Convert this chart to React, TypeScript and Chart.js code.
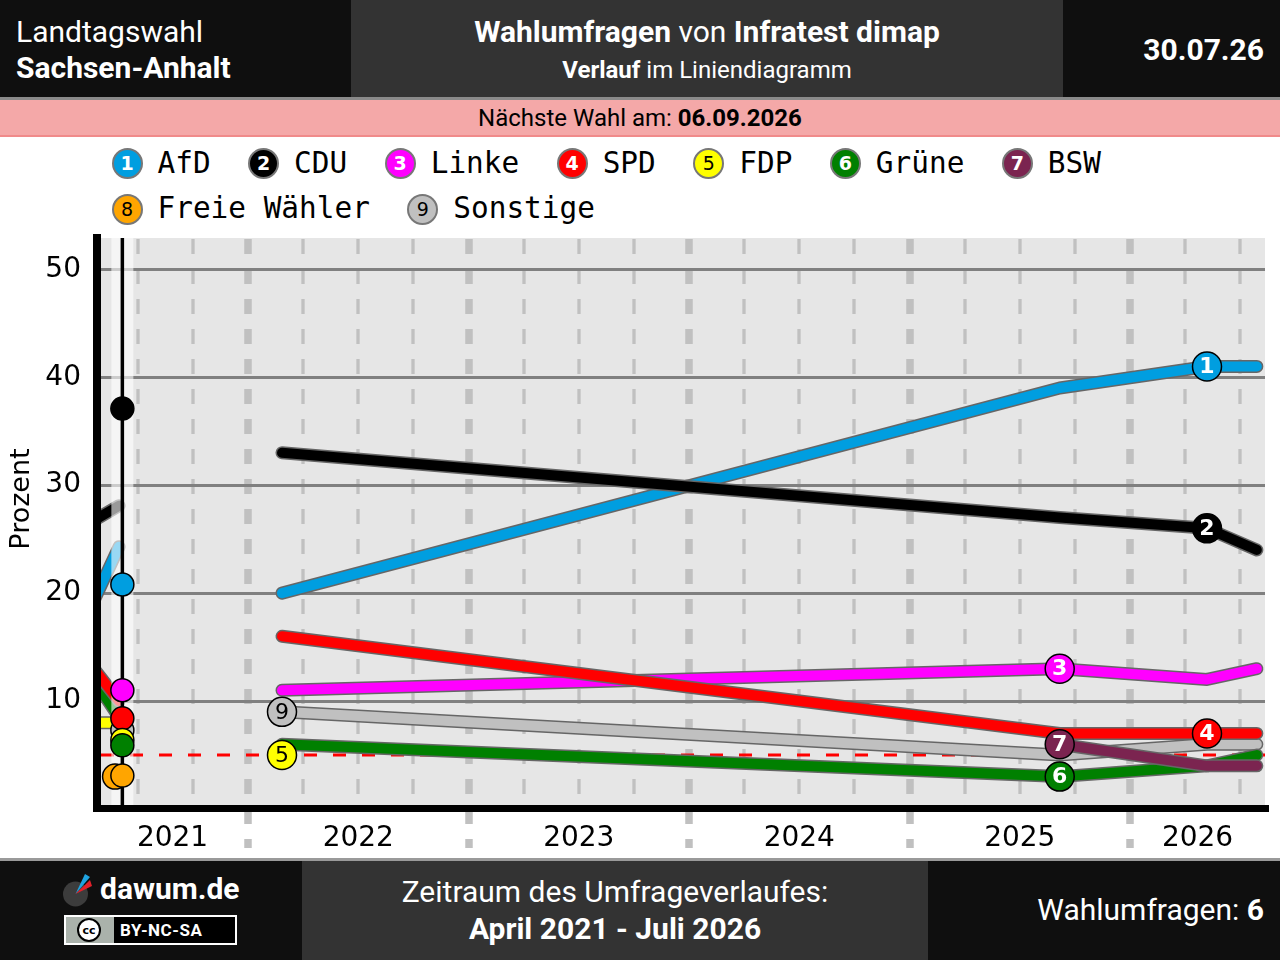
import React, { useEffect, useRef } from "react";
import { Chart, registerables } from "chart.js";

Chart.register(...registerables);

// ---------------- data ----------------
const parties = ["AfD", "CDU", "Linke", "SPD", "FDP", "Grüne", "BSW", "Freie Wähler", "Sonstige"];
const partyColors = ["#009ee0", "#000000", "#ff00ff", "#ff0000", "#ffff00", "#008000", "#7b2450", "#ffa500", "#c0c0c0"];
const numberColors = ["#ffffff", "#ffffff", "#ffffff", "#ffffff", "#000000", "#ffffff", "#ffffff", "#000000", "#000000"];

// poll dates as decimal years (Feb 2022, Sep 2025, May 2026, 30.07.2026)
const pollDates = [2022.154, 2025.681, 2026.349, 2026.575];
const afdValues = [20, 39, 41, 41];
const cduValues = [33, 27, 26, 24];
const linkeValues = [11, 13, 12, 13];
const spdValues = [16, 7, 7, 7];
const fdpValues = [5, null, null, null];
const grueneValues = [6, 3, 4, 5];
const bswValues = [null, 6, 4, 4];
const fwValues = [null, null, null, null];
const sonstigeValues = [9, 5, 6, 6];
const seriesValues = [afdValues, cduValues, linkeValues, spdValues, fdpValues, grueneValues, bswValues, fwValues, sonstigeValues];

// which poll carries the numbered label of each party (-1 = none)
const labelPollIndex = [2, 2, 1, 2, 0, 1, 1, -1, 0];

// last election (06.06.2021)
const electionDate = 2021.43;
const electionResults = [20.8, 37.1, 11.0, 8.4, 6.4, 5.9, null, 3.1, 7.3];
const fwPreMarkerDate = 2021.397;
const fwPreMarkerValue = 3.0;

// polls before the last election (only their tail is visible)
const preDates = [2021.29, 2021.415];
const preAfd = [18.8, 24.3];
const preCdu = [26.6, 28.1];
const preSpd = [13.3, 10.0];
const preFdp = [8.0, 8.0];
const preGruene = [12.3, 8.5];
const preSeries: [number, number[]][] = [[5, preGruene], [3, preSpd], [4, preFdp], [0, preAfd], [1, preCdu]];

// axes
const xMin = 2021.315;
const xMax = 2026.612;
const yMin = 0;
const yMax = 52.9;
const yTickValues = [10, 20, 30, 40, 50];
const yearLabels = [2021, 2022, 2023, 2024, 2025, 2026];
const threshold = 5;

// drawing rank (0 = bottom)
const drawRank = [1, 2, 3, 4, 5, 6, 7, 8, 0];

const CANVAS_TOP = 224;

function buildDatasets() {
  const datasets: any[] = [];
  const common = {
    type: "line",
    pointRadius: 0,
    pointHoverRadius: 0,
    borderCapStyle: "round",
    borderJoinStyle: "round",
    tension: 0,
    fill: false,
  };
  preSeries.forEach(([p, vals], k) => {
    const data = preDates.map((d, i) => ({ x: d, y: vals[i] }));
    datasets.push({ ...common, data, borderColor: "#666666", borderWidth: 13, order: 3000 - k * 2 });
    datasets.push({ ...common, data, borderColor: partyColors[p], borderWidth: 10, order: 3000 - k * 2 - 1 });
  });
  parties.forEach((name, p) => {
    const vals = seriesValues[p];
    const data = pollDates.map((d, i) => ({ x: d, y: vals[i] })).filter((pt) => pt.y !== null);
    if (data.length < 2) return;
    const r = drawRank[p];
    datasets.push({ ...common, label: name, data, borderColor: "#666666", borderWidth: 13, order: 2000 - r * 2 });
    datasets.push({ ...common, label: name, data, borderColor: partyColors[p], borderWidth: 10, order: 2000 - r * 2 - 1 });
  });
  let bandIndex = -1;
  let bandOrder = -1;
  parties.forEach((name, p) => {
    const v = electionResults[p];
    if (v === null) return;
    const r = drawRank[p];
    const pts = [{ x: electionDate, y: v }];
    const order = 500 - r * 2;
    if (p === 7) {
      datasets.push({
        type: "line", showLine: false, data: [{ x: fwPreMarkerDate, y: fwPreMarkerValue }],
        pointRadius: 12.5, pointHoverRadius: 12.5, pointBackgroundColor: partyColors[p],
        pointBorderColor: "#000", pointBorderWidth: 1.5, order: order + 1,
      });
    }
    datasets.push({
      type: "line", showLine: false, data: pts,
      pointRadius: 11.5, pointHoverRadius: 11.5, pointBackgroundColor: partyColors[p],
      pointBorderColor: "#000", pointBorderWidth: 1.5, order,
    });
    if (order > bandOrder) {
      bandOrder = order;
      bandIndex = datasets.length - 1;
    }
  });
  return { datasets, bandIndex };
}

function zeroPadding(axis: any) {
  axis.paddingTop = 0;
  axis.paddingBottom = 0;
  axis.paddingLeft = 0;
  axis.paddingRight = 0;
}

export default function App() {
  const canvasRef = useRef<HTMLCanvasElement>(null);

  useEffect(() => {
    document.body.style.margin = "0";
    const canvas = canvasRef.current;
    if (!canvas) return;
    const { datasets, bandIndex } = buildDatasets();

    const decor = {
      id: "decor",
      beforeDraw(chart: any) {
        const { ctx, chartArea: a, scales } = chart;
        const x = scales.x;
        const y = scales.y;
        ctx.save();
        ctx.fillStyle = "#e6e6e6";
        ctx.fillRect(a.left, a.top, a.right - a.left, a.bottom - a.top);
        for (let k = Math.ceil(xMin * 4); k <= Math.floor(xMax * 4); k++) {
          const q = k / 4;
          const px = Math.round(x.getPixelForValue(q));
          const isYear = k % 4 === 0;
          ctx.beginPath();
          ctx.strokeStyle = "#c0c0c0";
          ctx.lineWidth = isYear ? 7.5 : 3.3;
          ctx.setLineDash([15, 15]);
          ctx.moveTo(px, a.top + 1);
          ctx.lineTo(px, isYear ? a.bottom + 39 : a.bottom);
          ctx.stroke();
        }
        const ty = y.getPixelForValue(threshold);
        ctx.setLineDash([13, 16]);
        ctx.strokeStyle = "#ff0000";
        ctx.lineWidth = 3;
        ctx.beginPath();
        ctx.moveTo(a.left + 4, ty);
        ctx.lineTo(a.right, ty);
        ctx.stroke();
        ctx.restore();
      },
      beforeDatasetDraw(chart: any, args: any) {
        if (args.index !== bandIndex) return;
        const { ctx, chartArea: a, scales } = chart;
        const ex = scales.x.getPixelForValue(electionDate);
        ctx.save();
        ctx.fillStyle = "rgba(255,255,255,0.6)";
        ctx.fillRect(ex - 11, a.top, 22, a.bottom - a.top);
        ctx.strokeStyle = "#000";
        ctx.lineWidth = 3.5;
        ctx.beginPath();
        ctx.moveTo(ex, a.top);
        ctx.lineTo(ex, a.bottom);
        ctx.stroke();
        ctx.restore();
      },
      afterDatasetsDraw(chart: any) {
        const { ctx, scales } = chart;
        ctx.save();
        parties.forEach((name, p) => {
          const idx = labelPollIndex[p];
          if (idx < 0) return;
          const v = seriesValues[p][idx];
          if (v === null) return;
          const px = scales.x.getPixelForValue(pollDates[idx]);
          const py = scales.y.getPixelForValue(v);
          ctx.beginPath();
          ctx.arc(px, py, 14.5, 0, Math.PI * 2);
          ctx.fillStyle = partyColors[p];
          ctx.fill();
          ctx.lineWidth = 1.5;
          ctx.strokeStyle = "#000";
          ctx.stroke();
          ctx.fillStyle = numberColors[p];
          ctx.font = (numberColors[p] === "#ffffff" ? "bold " : "") + '22px "DejaVu Sans"';
          ctx.textAlign = "center";
          ctx.textBaseline = "middle";
          ctx.fillText(String(p + 1), px, py + 1);
        });
        ctx.restore();
      },
      afterDraw(chart: any) {
        const { ctx, chartArea: a } = chart;
        ctx.save();
        ctx.fillStyle = "#000";
        ctx.fillRect(a.left - 4, a.top - 4, 8, a.bottom - a.top + 7);
        ctx.fillRect(a.left - 4, a.bottom - 4, a.right - a.left + 8, 7);
        ctx.translate(22, 499 - CANVAS_TOP);
        ctx.rotate(-Math.PI / 2);
        ctx.font = '27px "DejaVu Sans"';
        ctx.textAlign = "center";
        ctx.textBaseline = "middle";
        ctx.fillText("Prozent", 0, 0);
        ctx.restore();
      },
    };

    const chart = new Chart(canvas, {
      type: "line",
      data: { datasets },
      options: {
        responsive: false,
        animation: false,
        events: [],
        layout: { padding: { top: 1, right: 15, bottom: 0, left: 0 } },
        plugins: { legend: { display: false }, tooltip: { enabled: false }, title: { display: false } },
        scales: {
          x: {
            type: "linear",
            min: xMin,
            max: xMax,
            grid: { display: false, drawTicks: false },
            border: { display: false },
            afterBuildTicks: (axis: any) => {
              axis.ticks = yearLabels.map((yr) => ({ value: (Math.max(yr, xMin) + Math.min(yr + 1, xMax)) / 2 }));
            },
            afterFit: (axis: any) => {
              axis.height = 51;
              zeroPadding(axis);
            },
            ticks: {
              autoSkip: false,
              maxRotation: 0,
              minRotation: 0,
              padding: 13,
              color: "#000",
              font: { family: "DejaVu Sans", size: 28 },
              callback: (v: any) => String(Math.floor(Number(v) + 1e-6)),
            },
          },
          y: {
            type: "linear",
            min: yMin,
            max: yMax,
            grid: { color: "#808080", lineWidth: 3, drawTicks: false },
            border: { display: false },
            afterBuildTicks: (axis: any) => {
              axis.ticks = yTickValues.map((v) => ({ value: v }));
            },
            afterFit: (axis: any) => {
              axis.width = 97;
              zeroPadding(axis);
            },
            ticks: {
              padding: 16,
              color: "#000",
              font: { family: "DejaVu Sans", size: 28 },
              callback: (v: any) => String(v),
            },
          },
        },
      } as any,
      plugins: [decor as any],
    } as any);
    return () => chart.destroy();
  }, []);

  const T = (props: {
    x: number; baseline: number; size: number; align?: "left" | "center" | "right";
    weight?: number; color?: string; children: React.ReactNode;
  }) => {
    const { x, baseline, size, align = "left", weight = 400, color = "#fff", children } = props;
    const lh = size * 1.172;
    const top = baseline - size * 0.928;
    const style: React.CSSProperties = {
      position: "absolute", top, height: lh, lineHeight: `${lh}px`, fontSize: size,
      fontFamily: "Roboto", fontWeight: weight, color, whiteSpace: "nowrap",
    };
    if (align === "left") style.left = x;
    if (align === "center") { style.left = x - 500; style.width = 1000; style.textAlign = "center"; }
    if (align === "right") { style.right = 1280 - x; style.textAlign = "right"; }
    return <div style={style}>{children}</div>;
  };

  return (
    <div style={{ position: "absolute", left: 0, top: 0, width: 1280, height: 960, background: "#fff", overflow: "hidden", fontFamily: "Roboto" }}>
      {/* header */}
      <div style={{ position: "absolute", left: 0, top: 0, width: 351, height: 97, background: "#0f0f0f" }} />
      <div style={{ position: "absolute", left: 351, top: 0, width: 712, height: 97, background: "#333333" }} />
      <div style={{ position: "absolute", left: 1063, top: 0, width: 217, height: 97, background: "#0f0f0f" }} />
      <div style={{ position: "absolute", left: 0, top: 97, width: 1280, height: 3, background: "#8a8a8a" }} />
      <div style={{ position: "absolute", left: 0, top: 100, width: 1280, height: 35, background: "#f4a8a8" }} />
      <div style={{ position: "absolute", left: 0, top: 135, width: 1280, height: 2, background: "#f08a8a" }} />
      <T x={16} baseline={41.6} size={30}>Landtagswahl</T>
      <T x={16} baseline={77.7} size={30} weight={700}>Sachsen-Anhalt</T>
      <T x={707} baseline={41.7} size={30} align="center">
        <b>Wahlumfragen</b> von <b>Infratest dimap</b>
      </T>
      <T x={707} baseline={78} size={24} align="center">
        <b>Verlauf</b> im Liniendiagramm
      </T>
      <T x={1264} baseline={59.5} size={30} weight={700} align="right">30.07.26</T>
      <T x={640} baseline={126} size={24} align="center" color="#000">
        Nächste Wahl am: <b>06.09.2026</b>
      </T>

      {/* legend */}
      <div style={{ position: "absolute", left: 111.5, top: 148, width: 1160, display: "flex", flexWrap: "wrap", columnGap: 37.5, rowGap: 14.5 }}>
        {parties.map((name, p) => (
          <div key={name} style={{ display: "flex", alignItems: "center", height: 31 }}>
            <div style={{
              width: 31, height: 31, borderRadius: "50%", background: partyColors[p], border: "2px solid #777",
              boxSizing: "border-box", display: "flex", alignItems: "center", justifyContent: "center",
              color: numberColors[p], fontFamily: "DejaVu Sans", fontSize: 19,
              fontWeight: numberColors[p] === "#ffffff" ? 700 : 400, lineHeight: 1,
            }}>{p + 1}</div>
            <div style={{ marginLeft: 15, fontFamily: "DejaVu Sans Mono", fontSize: 29.4, lineHeight: 1, color: "#000", whiteSpace: "pre" }}>{name}</div>
          </div>
        ))}
      </div>

      {/* chart */}
      <canvas ref={canvasRef} width={1280} height={636} style={{ position: "absolute", left: 0, top: CANVAS_TOP, width: 1280, height: 636 }} />

      {/* footer */}
      <div style={{ position: "absolute", left: 0, top: 858, width: 1280, height: 3, background: "#9a9a9a" }} />
      <div style={{ position: "absolute", left: 0, top: 861, width: 302, height: 99, background: "#0f0f0f" }} />
      <div style={{ position: "absolute", left: 302, top: 861, width: 626, height: 99, background: "#333333" }} />
      <div style={{ position: "absolute", left: 928, top: 861, width: 352, height: 99, background: "#0f0f0f" }} />
      <svg style={{ position: "absolute", left: 60, top: 870 }} width={36} height={38} viewBox="0 0 36 38">
        <circle cx={15.5} cy={24} r={12.5} fill="#3c3c3c" />
        <polygon points="15.5,24 25,4 30,7" fill="#1fa3e0" />
        <polygon points="15.5,24 30,10 32,16" fill="#e3202a" />
      </svg>
      <T x={100} baseline={899} size={30} weight={700}>dawum.de</T>
      <div style={{ position: "absolute", left: 64, top: 915, width: 173, height: 30, boxSizing: "border-box", border: "2px solid #fff", background: "#000" }}>
        <div style={{ position: "absolute", left: 0, top: 0, width: 48, height: 26, background: "#aab2ab" }} />
        <div style={{
          position: "absolute", left: 11, top: 1, width: 24, height: 24, borderRadius: "50%", background: "#fff",
          border: "2.5px solid #000", boxSizing: "border-box", display: "flex", alignItems: "center", justifyContent: "center",
          fontFamily: "DejaVu Sans", fontWeight: 700, fontSize: 11, color: "#000", lineHeight: 1,
        }}>cc</div>
        <div style={{ position: "absolute", left: 54, top: 0, height: 26, lineHeight: "26px", fontFamily: "Roboto", fontWeight: 700, fontSize: 17, color: "#fff", letterSpacing: 0.5 }}>BY-NC-SA</div>
      </div>
      <T x={615} baseline={901.7} size={30} align="center">Zeitraum des Umfrageverlaufes:</T>
      <T x={615} baseline={939} size={30} weight={700} align="center">April 2021 - Juli 2026</T>
      <T x={1264} baseline={920} size={30} align="right">
        Wahlumfragen: <b>6</b>
      </T>
    </div>
  );
}
